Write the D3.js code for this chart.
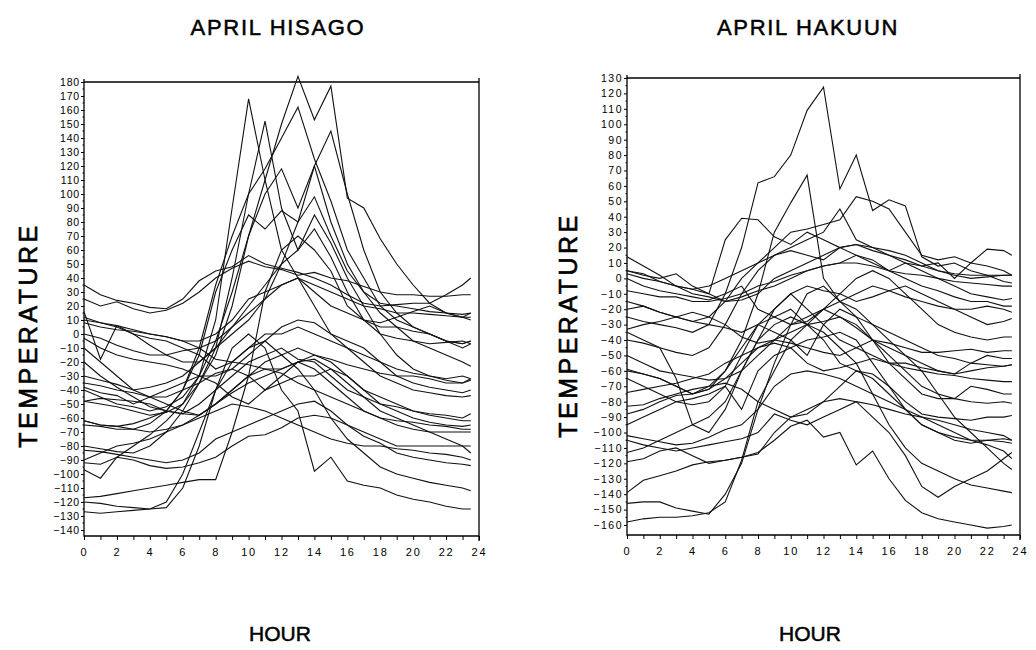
<!DOCTYPE html>
<html>
<head>
<meta charset="utf-8">
<script src="https://cdn.jsdelivr.net/npm/d3@7"></script>
<style>
  body { margin: 0; background: #fff; }
  text { font-family: "Liberation Sans", Arial, sans-serif; fill: #000; }
</style>
</head>
<body>
<svg id="chart" width="1036" height="650"></svg>
<script>
// hour of each reading (last one is the half hour before midnight)
const HOURS = [0,1,2,3,4,5,6,7,8,9,10,11,12,13,14,15,16,17,18,19,20,21,22,23,23.5];
const X_TICKS = [0,2,4,6,8,10,12,14,16,18,20,22,24];
const HISAGO_RANGE = [-140, 180];
const HAKUUN_RANGE = [-160, 130];

// APRIL HISAGO, one row per day
const HISAGO = [
  [35,28,24,22,19,18,25,38,45,48,56,50,47,44,40,35,28,22,20,21,22,22,28,35,40],
  [25,20,23,18,15,17,22,30,40,47,52,48,46,42,44,40,38,34,30,28,28,27,27,28,28],
  [16,-18,6,0,-8,-15,-20,-20,-10,5,15,25,35,40,30,20,15,10,8,12,16,20,15,12,15],
  [-40,-45,-50,-52,-55,-52,-45,-30,-5,30,70,110,150,184,153,177,97,90,68,50,35,22,15,12,10],
  [-97,-103,-88,-80,-72,-62,-50,-30,10,90,168,110,60,40,20,0,-10,-20,-30,-35,-40,-42,-44,-45,-44],
  [-62,-65,-66,-64,-60,-55,-40,-10,35,70,100,118,140,162,125,95,60,40,20,10,5,0,-5,-7,-5],
  [-80,-82,-84,-85,-80,-70,-55,-35,-10,40,100,152,90,60,85,65,40,20,0,-15,-25,-30,-33,-35,-32],
  [-30,-33,-36,-40,-38,-35,-30,-20,-10,0,10,25,50,80,120,145,100,60,30,15,5,0,-5,-10,-7],
  [-48,-50,-52,-55,-58,-56,-50,-35,-15,20,70,100,118,90,120,80,50,30,15,5,-5,-10,-15,-20,-23],
  [-65,-66,-68,-68,-64,-55,-40,-15,30,60,85,75,88,80,98,70,45,30,22,20,18,16,15,14,15],
  [0,-3,-8,-12,-15,-15,-12,-10,-5,5,20,35,50,60,75,55,30,10,5,5,2,0,-5,-7,-5],
  [12,8,5,0,-3,-5,-10,-15,-25,-20,-10,0,0,5,0,-5,-10,-15,-20,-25,-28,-30,-32,-30,-32],
  [10,8,6,3,0,-2,-5,-10,-18,-20,-22,-25,-25,-20,-15,-18,-22,-25,-28,-30,-30,-32,-35,-35,-33],
  [-3,-10,-15,-18,-20,-22,-25,-30,-30,-25,-15,-5,5,10,8,0,-5,-10,-20,-30,-35,-38,-40,-42,-40],
  [-10,-20,-30,-40,-45,-50,-55,-58,-50,-40,-30,-20,-15,-10,-15,-20,-30,-40,-50,-55,-60,-63,-65,-66,-65],
  [-20,-30,-38,-45,-52,-55,-57,-50,-40,-30,-20,-15,-10,-18,-20,-30,-40,-45,-50,-52,-55,-57,-58,-60,-57],
  [-35,-37,-40,-42,-45,-45,-40,-35,-28,-25,-30,-40,-35,-30,-30,-25,-30,-40,-45,-50,-55,-58,-60,-62,-62],
  [-38,-42,-44,-50,-45,-40,-35,-30,-35,-45,-50,-40,-30,-20,-25,-35,-45,-55,-60,-62,-63,-65,-66,-68,-68],
  [-48,-46,-47,-48,-50,-55,-57,-58,-50,-40,-30,-25,-28,-35,-40,-45,-50,-55,-60,-65,-68,-70,-70,-70,-70],
  [-62,-65,-66,-68,-70,-68,-65,-60,-55,-50,-52,-55,-60,-65,-70,-75,-78,-80,-80,-82,-83,-85,-86,-88,-90],
  [-83,-84,-86,-88,-90,-92,-90,-85,-75,-70,-65,-60,-55,-50,-48,-55,-65,-70,-75,-80,-80,-80,-80,-80,-80],
  [-90,-85,-80,-78,-75,-70,-65,-58,-50,-42,-35,-30,-25,-20,-18,-25,-35,-45,-55,-60,-65,-70,-75,-80,-85],
  [-92,-93,-88,-90,-94,-96,-95,-92,-88,-80,-73,-72,-67,-60,-58,-60,-65,-73,-78,-85,-88,-90,-92,-93,-94],
  [-117,-116,-114,-112,-110,-108,-106,-104,-104,-70,-30,30,60,70,60,45,20,10,0,-3,-5,-7,-6,-5,-7],
  [-120,-121,-123,-124,-125,-124,-110,-80,-40,-10,0,-10,-40,-55,-98,-88,-105,-108,-110,-115,-118,-120,-123,-125,-125],
  [-127,-128,-127,-126,-125,-120,-100,-70,-40,-20,-10,-5,-15,-25,-40,-60,-75,-85,-95,-100,-103,-106,-108,-110,-112],
  [8,5,3,2,0,-2,-5,-5,0,10,25,30,35,40,35,30,25,20,18,15,15,14,13,12,12]
];

// APRIL HAKUUN, one row per day
const HAKUUN = [
  [-25,-28,-30,-32,-35,-30,-10,20,62,66,80,109,124,58,80,44,51,47,14,8,10,5,2,-2,-3],
  [-60,-62,-65,-70,-75,-72,-60,-40,-10,30,49,67,0,-15,-25,-30,-35,-40,-45,-50,-52,-55,-56,-57,-56],
  [5,3,-2,-5,-7,-10,25,39,38,27,22,30,25,20,22,18,15,12,8,5,3,2,2,2,2],
  [-15,-18,-22,-25,-28,-25,-15,0,10,20,30,32,35,38,53,50,45,30,15,12,14,10,8,5,2],
  [-40,-42,-45,-48,-50,-45,-30,-10,5,15,20,25,30,45,25,20,15,10,5,0,-5,-10,-12,-14,-13],
  [3,0,-2,-5,-7,-5,0,5,10,15,18,15,12,20,15,10,5,10,8,10,0,10,19,18,15],
  [14,8,2,-5,-10,-12,-15,-14,-10,0,5,10,15,20,22,20,18,15,10,5,2,0,1,2,2],
  [5,2,0,3,-5,-10,-15,-12,-8,-5,0,5,8,10,10,8,5,3,2,0,-2,-3,-4,-5,-5],
  [0,-5,-8,-10,-12,-14,-10,-5,-20,-25,-30,-28,-20,-15,-10,-5,-8,-12,-15,-18,-20,-20,-18,-20,-22],
  [-8,-10,-12,-12,-15,-15,-13,-10,-5,-2,2,5,8,10,15,12,5,0,-5,-8,-12,-15,-15,-18,-18],
  [-20,-18,-22,-25,-28,-30,-32,-35,-30,-20,-10,-5,-8,-10,-15,-12,-8,-5,-10,-15,-20,-25,-30,-28,-26],
  [-33,-30,-28,-25,-22,-25,-30,-38,-42,-40,-42,-45,-48,-50,-45,-40,-42,-45,-48,-48,-47,-46,-48,-47,-47],
  [-50,-55,-60,-62,-64,-66,-65,-60,-50,-40,-30,-25,-20,-25,-30,-40,-45,-50,-55,-60,-62,-55,-50,-52,-52],
  [-35,-40,-45,-65,-95,-100,-85,-60,-40,-30,-25,-30,-20,-10,0,5,0,-10,-20,-30,-35,-38,-40,-38,-38],
  [-59,-62,-65,-70,-75,-72,-65,-55,-45,-42,-45,-55,-60,-58,-55,-52,-55,-58,-60,-62,-63,-65,-66,-67,-67],
  [-65,-70,-75,-80,-82,-80,-70,-50,-30,-35,-40,-50,-30,-20,-25,-40,-55,-65,-75,-78,-78,-70,-72,-75,-75],
  [-74,-72,-70,-68,-65,-62,-55,-50,-45,-40,-35,-30,-28,-25,-32,-40,-50,-60,-70,-75,-78,-80,-81,-80,-81],
  [-83,-82,-78,-75,-72,-70,-68,-72,-80,-85,-90,-88,-80,-70,-60,-62,-70,-80,-88,-90,-91,-92,-90,-90,-89],
  [-88,-85,-80,-76,-75,-70,-60,-45,-30,-25,-20,-30,-40,-55,-60,-65,-75,-85,-95,-100,-103,-105,-105,-104,-105],
  [-95,-90,-85,-80,-78,-75,-70,-85,-60,-50,-45,-40,-38,-35,-40,-55,-70,-85,-95,-100,-105,-107,-105,-106,-107],
  [-102,-104,-106,-108,-107,-103,-98,-95,-85,-70,-62,-60,-62,-65,-70,-75,-80,-85,-90,-95,-100,-105,-108,-112,-117],
  [-105,-108,-110,-112,-110,-108,-106,-104,-100,-88,-92,-95,-90,-85,-80,-82,-85,-88,-90,-92,-95,-98,-100,-102,-105],
  [-113,-110,-105,-100,-95,-90,-80,-60,-40,-20,-10,-20,-30,-40,-45,-50,-55,-55,-58,-60,-62,-60,-58,-57,-56],
  [-119,-117,-112,-110,-115,-120,-118,-116,-114,-100,-90,-85,-80,-78,-80,-90,-100,-115,-135,-142,-135,-130,-125,-117,-113],
  [-139,-131,-128,-125,-121,-119,-118,-116,-113,-105,-96,-92,-103,-100,-121,-112,-130,-144,-152,-156,-158,-160,-162,-161,-160],
  [-146,-145,-145,-149,-151,-153,-140,-120,-85,-55,-30,-10,-5,-15,-20,-30,-40,-50,-60,-75,-90,-100,-110,-120,-124],
  [-158,-156,-155,-155,-154,-152,-145,-118,-80,-60,-40,-30,-35,-45,-55,-75,-95,-110,-120,-125,-130,-134,-136,-138,-139]
];

const svg = d3.select('#chart');

function drawPanel(cfg, series) {
  const x = d3.scaleLinear().domain([0, 24]).range([cfg.left, cfg.right]);
  const y = d3.scaleLinear().domain(cfg.range).range([cfg.bottom, cfg.top]);
  const g = svg.append('g');

  // frame: left axis, bottom axis, top and right borders
  g.append('path')
    .attr('d', `M${cfg.left},${cfg.top - 3}V${cfg.axisY}H${cfg.right}M${cfg.left},${cfg.top}H${cfg.right}M${cfg.right},${cfg.top - 4}V${cfg.axisY + 5}`)
    .attr('fill', 'none')
    .attr('stroke', '#000')
    .attr('stroke-width', 1.3);

  // y axis
  const yaxis = d3.axisLeft(y)
    .tickValues(d3.range(cfg.range[0], cfg.range[1] + 1, 10))
    .tickSize(3)
    .tickPadding(1);
  const yg = g.append('g')
    .attr('transform', `translate(${cfg.left},0)`)
    .call(yaxis);
  yg.select('.domain').remove();
  yg.selectAll('text')
    .style('font-size', '10.5px')
    .style('letter-spacing', cfg.tickSpacing)
    .style('font-family', '"Liberation Sans", Arial, sans-serif');

  // minor y ticks
  g.selectAll('.ymin')
    .data(d3.range(cfg.range[0] + 5, cfg.range[1], 10))
    .join('line')
    .attr('x1', cfg.left - 1.5).attr('x2', cfg.left)
    .attr('y1', d => y(d)).attr('y2', d => y(d))
    .attr('stroke', '#000');

  // x axis
  const xaxis = d3.axisBottom(x)
    .tickValues(d3.range(0, 25, 1))
    .tickFormat(d => X_TICKS.includes(d) ? d : '')
    .tickSize(4)
    .tickPadding(8);
  const xg = g.append('g')
    .attr('transform', `translate(0,${cfg.axisY})`)
    .call(xaxis);
  xg.select('.domain').remove();
  xg.selectAll('text')
    .style('font-size', '11px')
    .style('letter-spacing', '1.8px')
    .style('font-family', '"Liberation Sans", Arial, sans-serif');

  // day curves
  const line = d3.line()
    .x((d, i) => x(HOURS[i]))
    .y(d => y(d));
  g.append('g')
    .selectAll('path')
    .data(series)
    .join('path')
    .attr('d', line)
    .attr('fill', 'none')
    .attr('stroke', '#111')
    .attr('stroke-width', 1.1)
    .attr('stroke-linejoin', 'miter');

  // texts (a thin stroke to get the heavier printed look)
  svg.append('text')
    .attr('x', cfg.titleX).attr('y', 35)
    .attr('text-anchor', 'middle')
    .attr('stroke', '#000').attr('stroke-width', 0.5)
    .style('font-size', '22px')
    .style('letter-spacing', '1.7px')
    .text(cfg.title);

  svg.append('text')
    .attr('transform', `translate(${cfg.ylabelX},${cfg.ylabelY}) rotate(-90)`)
    .attr('text-anchor', 'middle')
    .attr('stroke', '#000').attr('stroke-width', 0.6)
    .style('font-size', '25px')
    .style('letter-spacing', '3.5px')
    .text('TEMPERATURE');

  svg.append('text')
    .attr('x', cfg.titleX + 2).attr('y', 641)
    .attr('text-anchor', 'middle')
    .attr('stroke', '#000').attr('stroke-width', 0.5)
    .style('font-size', '21px')
    .text('HOUR');
}

drawPanel({
  title: 'APRIL HISAGO', range: HISAGO_RANGE,
  left: 84, right: 479, top: 82, bottom: 530, axisY: 536,
  titleX: 278, ylabelX: 37, ylabelY: 335, tickSpacing: '0.8px'
}, HISAGO);

drawPanel({
  title: 'APRIL HAKUUN', range: HAKUUN_RANGE,
  left: 627, right: 1020, top: 78, bottom: 525, axisY: 535,
  titleX: 808, ylabelX: 577, ylabelY: 325, tickSpacing: '1.5px'
}, HAKUUN);
</script>
</body>
</html>
